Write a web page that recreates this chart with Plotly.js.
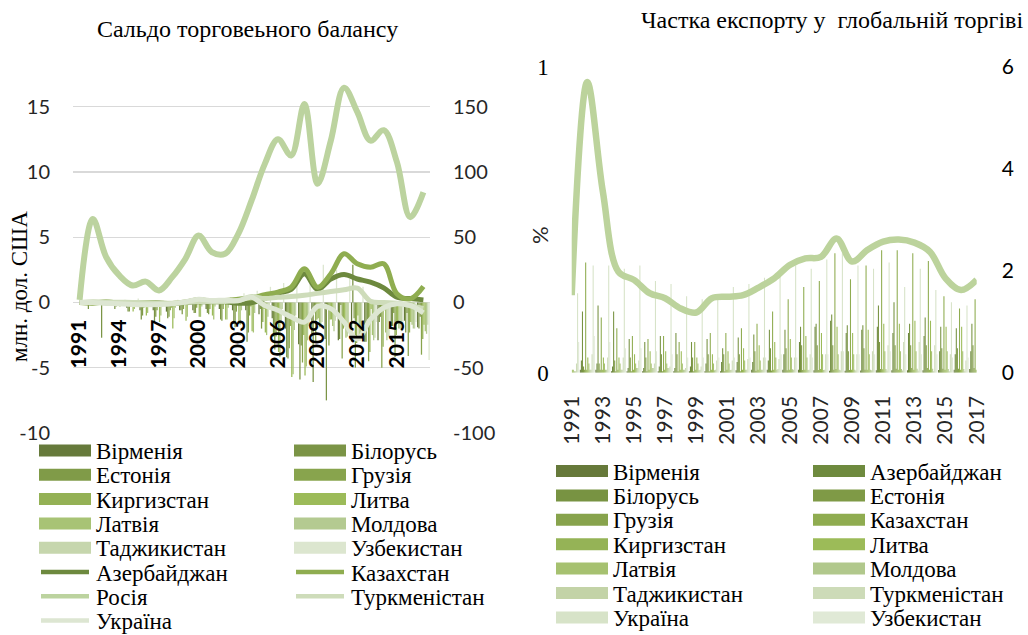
<!DOCTYPE html>
<html>
<head>
<meta charset="utf-8">
<script src="https://cdn.plot.ly/plotly-3.0.1.min.js"></script>
<style>html,body{margin:0;padding:0;background:#fff;}#chart{width:1028px;height:635px;}</style>
</head>
<body>
<div id="chart"></div>
<script>
// ---------------- DATA ----------------
const years = [1991,1992,1993,1994,1995,1996,1997,1998,1999,2000,2001,2002,2003,2004,2005,2006,2007,2008,2009,2010,2011,2012,2013,2014,2015,2016,2017];

// Left chart: trade balance, bars (left axis, bn USD)
const balArmenia    = [0,-0.1,-0.2,-0.2,-0.4,-0.6,-0.6,-0.7,-0.6,-0.6,-0.5,-0.5,-0.6,-0.6,-0.9,-1.2,-2.0,-3.2,-2.5,-2.8,-2.9,-3.0,-3.0,-2.9,-1.8,-1.4,-1.9];
const balBelarus    = [0,-0.5,-2.7,-0.5,-0.7,-1.3,-1.5,-1.2,-0.6,-0.8,-0.8,-1.3,-1.6,-3.0,-0.5,-2.6,-4.2,-5.9,-6.1,-7.5,-2.8,2.9,-3.0,-1.5,-1.8,-2.3,-2.0];
const balEstonia    = [0,0,-0.1,-0.3,-0.7,-1.0,-1.1,-1.1,-0.9,-0.8,-0.9,-1.4,-1.9,-2.3,-2.0,-3.6,-4.3,-3.3,-0.8,-0.2,-0.2,-1.2,-1.3,-1.1,-0.8,-0.8,-1.1];
const balGeorgia    = [0,0,-0.2,-0.2,-0.3,-0.4,-0.6,-0.6,-0.5,-0.4,-0.5,-0.5,-0.7,-1.0,-1.5,-2.6,-3.5,-4.6,-3.0,-3.3,-4.3,-5.0,-4.5,-5.0,-4.2,-4.1,-4.0];
const balKyrgyzstan = [0,-0.1,-0.1,-0.1,-0.2,-0.3,0,-0.4,-0.2,0,0,-0.1,-0.1,-0.3,-0.5,-1.4,-1.8,-2.5,-1.3,-1.3,-2.0,-3.1,-3.8,-3.4,-2.5,-2.3,-2.8];
const balLithuania  = [0,0,-0.2,-0.3,-0.7,-1.0,-1.5,-2.0,-1.4,-1.1,-1.0,-1.3,-1.6,-2.2,-2.3,-3.8,-5.7,-5.6,-1.2,-1.3,-1.8,-1.0,-0.5,-0.6,-1.6,-1.5,-1.7];
const balLatvia     = [0,0,0,-0.2,-0.5,-0.8,-1.0,-1.2,-1.1,-1.1,-1.3,-1.3,-1.7,-2.3,-2.5,-4.2,-5.5,-4.9,-1.9,-1.8,-2.7,-2.5,-2.5,-2.3,-2.0,-1.7,-2.2];
const balMoldova    = [0,0,-0.1,-0.1,-0.1,-0.3,-0.3,-0.4,-0.2,-0.3,-0.3,-0.4,-0.6,-0.8,-1.1,-1.5,-2.1,-2.9,-1.7,-2.2,-2.6,-2.9,-2.9,-2.9,-2.0,-2.0,-2.4];
const balTajikistan = [0,0,-0.1,0,0,0,0,-0.1,0,0,-0.1,-0.1,-0.1,-0.1,-0.4,-0.5,-1.0,-1.8,-1.5,-1.4,-1.9,-2.4,-2.7,-2.6,-2.2,-2.0,-1.7];
const balUzbekistan = [0,0,0,0.2,0.3,-0.2,0,0.2,0.2,0.3,0.3,0.4,0.7,0.9,1.2,1.5,2.0,2.2,2.9,2.5,1.8,1.2,-1.5,-2.5,-2.0,-1.5,-4.4];

// Left chart: lines (right axis)
const balAzerbaijan   = [0,0,-0.2,-0.3,-0.3,-0.5,-0.4,-1,-0.1,0.5,0.6,0.5,-0.5,-0.2,3,7,10,22,10,18,21.5,18,15.6,11.2,4,3,2];
const balKazakhstan   = [0,-0.5,0.5,-0.5,-0.5,-0.3,-0.5,-0.8,0.3,2.2,1.0,1.5,2.5,3.5,6,8,11.7,25.8,11.7,22,37.3,29.6,27,29.6,6.6,2.8,12.3];
const balRussia       = [2,64,35,20.7,13,16,9.2,19.4,33.5,51.3,38.6,37.3,52.6,78,106,125,112.6,152,91,124,164.5,146,124,132,107.5,65.4,84.5];
const balTurkmenistan = [0,0.5,0.3,0.2,0,-0.2,-0.5,-0.5,0,0.8,0.6,0.8,1.5,4.5,3,4,4.5,5.5,7,8.4,9.7,11,1,0,-0.5,-2.5,-4.5];
const balUkraine      = [0,0,-0.5,-1,-1.5,-1.8,-1.6,-1,0.5,2.5,1.5,1.8,1.3,4,-2.3,-6,-11,-15,-3,-4.7,-15,-28,-13,-4,-1,-2.3,-8];

// Right chart: share of global exports, bars (left axis, %)
const shArmenia      = [0.005,0.01,0.01,0.005,0.005,0.005,0.005,0.005,0.005,0.005,0.005,0.008,0.01,0.01,0.01,0.01,0.008,0.006,0.006,0.007,0.008,0.008,0.008,0.008,0.009,0.01,0.012];
const shAzerbaijan   = [0.02,0.04,0.03,0.02,0.015,0.015,0.02,0.015,0.02,0.03,0.035,0.035,0.035,0.04,0.06,0.1,0.15,0.17,0.13,0.14,0.15,0.13,0.13,0.12,0.07,0.06,0.07];
const shBelarus      = [0.02,0.20,0.22,0.20,0.11,0.10,0.12,0.13,0.10,0.11,0.08,0.115,0.125,0.14,0.14,0.15,0.16,0.19,0.155,0.155,0.22,0.23,0.16,0.18,0.15,0.145,0.16];
const shEstonia      = [0.01,0.02,0.03,0.04,0.05,0.05,0.06,0.06,0.05,0.06,0.06,0.06,0.07,0.08,0.08,0.09,0.09,0.09,0.07,0.08,0.1,0.09,0.09,0.09,0.08,0.08,0.09];
const shGeorgia      = [0.005,0.01,0.01,0.005,0.005,0.005,0.005,0.005,0.005,0.005,0.005,0.005,0.006,0.007,0.008,0.009,0.009,0.01,0.009,0.01,0.012,0.013,0.015,0.015,0.013,0.013,0.015];
const shKazakhstan   = [0.02,0.36,0.18,0.145,0.12,0.11,0.12,0.10,0.10,0.13,0.13,0.145,0.16,0.20,0.24,0.28,0.30,0.39,0.305,0.35,0.40,0.40,0.39,0.365,0.25,0.21,0.24];
const shKyrgyzstan   = [0.005,0.01,0.01,0.01,0.01,0.01,0.01,0.01,0.01,0.01,0.01,0.01,0.01,0.01,0.01,0.01,0.012,0.012,0.01,0.01,0.011,0.01,0.01,0.01,0.01,0.01,0.01];
const shLithuania    = [0.01,0.05,0.05,0.05,0.06,0.07,0.07,0.07,0.05,0.06,0.07,0.08,0.09,0.1,0.11,0.12,0.13,0.15,0.13,0.14,0.16,0.16,0.17,0.17,0.15,0.15,0.16];
const shLatvia       = [0.01,0.03,0.03,0.03,0.03,0.03,0.03,0.03,0.03,0.03,0.03,0.04,0.04,0.05,0.05,0.05,0.06,0.06,0.06,0.06,0.07,0.07,0.07,0.07,0.07,0.07,0.07];
const shMoldova      = [0.005,0.01,0.01,0.01,0.015,0.015,0.015,0.01,0.008,0.008,0.009,0.01,0.01,0.01,0.011,0.009,0.009,0.01,0.01,0.01,0.012,0.012,0.013,0.013,0.012,0.012,0.014];
const shTajikistan   = [0.005,0.01,0.01,0.01,0.015,0.015,0.015,0.01,0.01,0.01,0.01,0.01,0.01,0.012,0.01,0.01,0.01,0.008,0.007,0.008,0.007,0.007,0.007,0.005,0.005,0.005,0.005];
const shTurkmenistan = [0.03,0.06,0.05,0.05,0.04,0.03,0.02,0.015,0.02,0.04,0.04,0.045,0.05,0.045,0.05,0.06,0.06,0.07,0.06,0.07,0.09,0.1,0.1,0.09,0.06,0.04,0.04];
const shUkraine      = [0.26,0.35,0.35,0.34,0.35,0.30,0.29,0.25,0.24,0.25,0.28,0.29,0.31,0.33,0.35,0.34,0.37,0.39,0.35,0.34,0.36,0.28,0.34,0.27,0.23,0.22,0.24];
const shUzbekistan   = [0.1,0.12,0.1,0.08,0.08,0.07,0.06,0.05,0.05,0.05,0.05,0.05,0.05,0.06,0.05,0.05,0.06,0.07,0.06,0.06,0.07,0.06,0.06,0.06,0.05,0.05,0.05];
// Right chart: Russia line (right axis, %)
const shRussia       = [1.52,5.7,3.55,1.98,1.82,1.56,1.46,1.26,1.18,1.46,1.49,1.52,1.67,1.85,2.11,2.24,2.27,2.63,2.18,2.41,2.57,2.61,2.55,2.37,1.85,1.62,1.82];

// Tick labels
const tickYearsL = [1991,1994,1997,2000,2003,2006,2009,2012,2015];
const tickYearsR = [1991,1993,1995,1997,1999,2001,2003,2005,2007,2009,2011,2013,2015,2017];
const tickBalL = [-10,-5,0,5,10,15];
const tickBalLText = ['-10','-5','0','5','10','15'];
const tickBalR = [-100,-50,0,50,100,150];
const tickBalRText = ['-100','-50','0','50','100','150'];
const tickShL = [0,1];
const tickShR = [0,2,4,6];

const titleL = 'Сальдо торговеьного балансу';
const titleR = 'Частка експорту у\u00a0 глобальній торгіві';
const yTitleL = 'млн. дол. США';
const yTitleR = '%';

// ---------------- SERIES DEFINITIONS ----------------
const leftBars = [
  ['Вірменія', balArmenia, '#667a3b'],
  ['Білорусь', balBelarus, '#7b9446'],
  ['Естонія', balEstonia, '#809b48'],
  ['Грузія', balGeorgia, '#88a44d'],
  ['Киргизстан', balKyrgyzstan, '#94b155'],
  ['Литва', balLithuania, '#9cbb59'],
  ['Латвія', balLatvia, '#a8c375'],
  ['Молдова', balMoldova, '#b4ca91'],
  ['Таджикистан', balTajikistan, '#c6d6ad'],
  ['Узбекистан', balUzbekistan, '#dce6cf']
];
const leftLines = [
  ['Азербайджан', balAzerbaijan, '#6d893e', 5],
  ['Казахстан', balKazakhstan, '#8fad50', 5],
  ['Росія', balRussia, '#bcd39f', 6],
  ['Туркменістан', balTurkmenistan, '#cedcba', 5],
  ['Україна', balUkraine, '#dde6d2', 5]
];
const rightBars = [
  ['Вірменія', shArmenia, '#66793a'],
  ['Азербайджан', shAzerbaijan, '#6e8a3e'],
  ['Білорусь', shBelarus, '#789342'],
  ['Естонія', shEstonia, '#7f9a46'],
  ['Грузія', shGeorgia, '#87a34c'],
  ['Казахстан', shKazakhstan, '#8fac50'],
  ['Киргизстан', shKyrgyzstan, '#95b356'],
  ['Литва', shLithuania, '#9cbb58'],
  ['Латвія', shLatvia, '#a6c170'],
  ['Молдова', shMoldova, '#b1c88c'],
  ['Таджикистан', shTajikistan, '#c3d3a7'],
  ['Туркменістан', shTurkmenistan, '#cddbb8'],
  ['Україна', shUkraine, '#d7e3c8'],
  ['Узбекистан', shUzbekistan, '#e0e9d6']
];
const russiaR = ['Росія', shRussia, '#bcd39c', 6.5];

// ---------------- GEOMETRY HELPERS ----------------
const W = 1028, H = 635;
const px = v => v / W;
const py = v => 1 - v / H;

const traces = [];
leftBars.forEach(([n, v, c]) => traces.push({type:'bar', name:n, x:years, y:v, xaxis:'x', yaxis:'y',
  marker:{color:c, line:{width:0}}, showlegend:false, hoverinfo:'skip'}));
leftLines.forEach(([n, v, c, w]) => traces.push({type:'scatter', mode:'lines', name:n, x:years, y:v, xaxis:'x', yaxis:'y2',
  line:{color:c, width:w, shape:'spline', smoothing:1}, showlegend:false, hoverinfo:'skip'}));
rightBars.forEach(([n, v, c]) => traces.push({type:'bar', name:n, x:years, y:v, xaxis:'x2', yaxis:'y3',
  marker:{color:c, line:{width:0}}, showlegend:false, hoverinfo:'skip'}));
traces.push({type:'scatter', mode:'lines', name:russiaR[0], x:years, y:russiaR[1], xaxis:'x2', yaxis:'y4',
  line:{color:russiaR[2], width:russiaR[3], shape:'spline', smoothing:1}, showlegend:false, hoverinfo:'skip'});

// ---------------- MANUAL LEGENDS ----------------
const shapes = [], annotations = [];
const serif = 'Liberation Serif, Times New Roman, serif';
const sans = 'Lato, Carlito, Open Sans, sans-serif';
function addLegend(items, x0s, rowY0, rowStep) {
  items.forEach((it, i) => {
    const col = i % 2, row = Math.floor(i / 2);
    const yc = rowY0 + row * rowStep;
    const sx = x0s[col];
    if (it.kind === 'bar') {
      shapes.push({type:'rect', xref:'paper', yref:'paper', x0:px(sx), x1:px(sx+52), y0:py(yc+6), y1:py(yc-6),
        fillcolor:it.color, line:{width:0}});
    } else {
      shapes.push({type:'line', xref:'paper', yref:'paper', x0:px(sx+2), x1:px(sx+50), y0:py(yc), y1:py(yc),
        line:{color:it.color, width:4.5}});
    }
    annotations.push({xref:'paper', yref:'paper', x:px(sx+55), y:py(yc+1), xanchor:'left', yanchor:'middle',
      text:it.name, showarrow:false, font:{family:serif, size:23, color:'#000'}});
  });
}
addLegend(leftBars.map(s => ({name:s[0], color:s[2], kind:'bar'})).concat(leftLines.map(s => ({name:s[0], color:s[2], kind:'line'}))),
  [39, 294], 450.5, 24.3);
addLegend(rightBars.map(s => ({name:s[0], color:s[2], kind:'bar'})), [556, 813], 471, 24.4);

// titles
annotations.push({xref:'paper', yref:'paper', x:px(247.5), y:py(29), xanchor:'center', yanchor:'middle',
  text:titleL, showarrow:false, font:{family:serif, size:24, color:'#000'}});
annotations.push({xref:'paper', yref:'paper', x:px(639), y:py(20), xanchor:'left', yanchor:'middle',
  text:titleR, showarrow:false, font:{family:serif, size:24, color:'#000'}});
annotations.push({xref:'paper', yref:'paper', x:px(20), y:py(287), xanchor:'center', yanchor:'middle', textangle:-90,
  text:yTitleL, showarrow:false, font:{family:serif, size:23, color:'#000'}});
annotations.push({xref:'paper', yref:'paper', x:px(539), y:py(235), xanchor:'center', yanchor:'middle', textangle:-90,
  text:yTitleR, showarrow:false, font:{family:sans, size:22, color:'#262626'}});

// ---------------- LAYOUT ----------------
const yDomL = [py(433), py(80.6)];
const yRangeL = [-10, 17];
const zeroPos = yDomL[0] + (0 - yRangeL[0]) / (yRangeL[1] - yRangeL[0]) * (yDomL[1] - yDomL[0]);
const grid = '#d9d9d9';

const layout = {
  width: W, height: H,
  margin: {l:0, r:0, t:0, b:0},
  paper_bgcolor:'#fff', plot_bgcolor:'rgba(0,0,0,0)',
  barmode:'group', bargap:0.04, bargroupgap:0,
  showlegend:false,
  xaxis: {domain:[px(73), px(430)], range:[1990.5, 2017.5], anchor:'free', position:zeroPos,
    tickvals:tickYearsL, ticktext:tickYearsL.map(String), tickangle:-90, ticks:'', showgrid:false, zeroline:false, showline:false,
    ticklabelstandoff:12, tickfont:{family:'Lato', size:21, color:'#000', weight:700}},
  yaxis: {domain:yDomL, range:yRangeL, anchor:'x', tickvals:tickBalL, ticktext:tickBalLText, ticks:'',
    showgrid:true, gridcolor:grid, gridwidth:1.3, zeroline:false, showline:false, ticklabelstandoff:22,
    tickfont:{family:sans, size:20, color:'#262626'}},
  yaxis2: {overlaying:'y', side:'right', anchor:'x', range:[-100, 170], tickvals:tickBalR, ticktext:tickBalRText, ticks:'',
    showgrid:false, zeroline:false, showline:false, ticklabelstandoff:22, tickfont:{family:sans, size:20, color:'#262626'}},
  xaxis2: {domain:[px(571.7), px(976.7)], range:[1991, 2017], anchor:'y3', tickvals:tickYearsR, ticktext:tickYearsR.map(String),
    tickangle:-90, ticks:'', showgrid:false, zeroline:false, showline:false, ticklabelstandoff:18,
    tickfont:{family:sans, size:21, color:'#262626'}},
  yaxis3: {domain:[py(372.7), py(66.7)], range:[0, 1], anchor:'x2', tickvals:tickShL, ticktext:tickShL.map(String), ticks:'',
    showgrid:true, gridcolor:grid, gridwidth:1.5, zeroline:false, showline:false, ticklabelstandoff:22,
    tickfont:{family:serif, size:23, color:'#000'}},
  yaxis4: {overlaying:'y3', side:'right', anchor:'x2', range:[0, 6], tickvals:tickShR, ticktext:tickShR.map(String), ticks:'',
    showgrid:false, zeroline:false, showline:false, ticklabelstandoff:24, tickfont:{family:sans, size:21, color:'#000'}},
  shapes: shapes,
  annotations: annotations
};

Plotly.newPlot('chart', traces, layout, {displayModeBar:false, staticPlot:true});
</script>
</body>
</html>
